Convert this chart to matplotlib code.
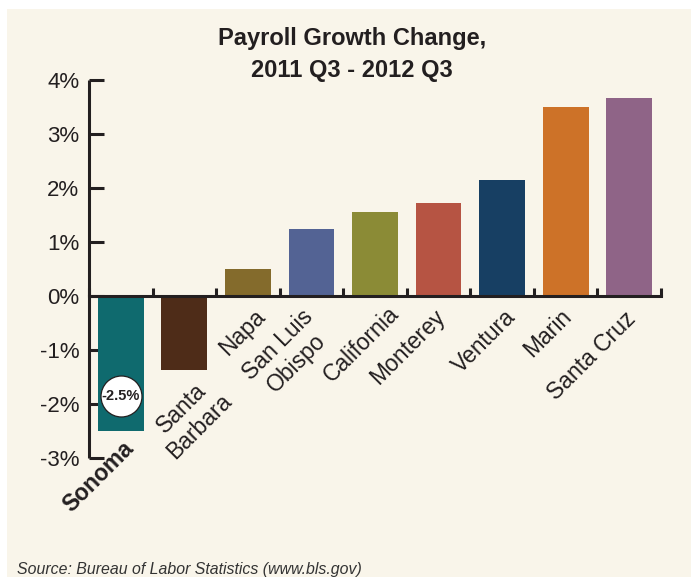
import matplotlib
matplotlib.use("Agg")
import matplotlib.pyplot as plt
from matplotlib.patches import Rectangle

# Data
regions = ["Sonoma", "Santa\nBarbara", "Napa", "San Luis\nObispo", "California",
           "Monterey", "Ventura", "Marin", "Santa Cruz"]
growth = [-2.5, -1.37, 0.5, 1.24, 1.56, 1.72, 2.15, 3.5, 3.67]
colors = ["#0f6a6e", "#4e2c18", "#846b2c", "#536394", "#8b8b36",
          "#b65443", "#173f63", "#cd7228", "#8f6487"]
yticks = [-3, -2, -1, 0, 1, 2, 3, 4]
ytick_labels = ["-3%", "-2%", "-1%", "0%", "1%", "2%", "3%", "4%"]
highlight = "Sonoma"
highlight_label = "-2.5%"

# Label placement nudges (pixels, right / up) relative to the bar's
# zero line (positive bars) or bar end (negative bars)
label_dx = [1, 18, 6, -10, 12, -5, 2, -6, -5]
label_dy = [-6, -1, -9, -9, -6, -9, -9, -9, -11]

plt.rcParams["font.family"] = ["Liberation Sans", "DejaVu Sans"]
ink = "#231f20"
bg = "#f9f5ea"

fig = plt.figure(figsize=(6.91, 5.77), dpi=100)
fig.patch.set_facecolor("white")
fig.patches.append(Rectangle((7 / 691, 0), 1, 1 - 9 / 577, transform=fig.transFigure,
                             facecolor=bg, edgecolor="none", zorder=-10))

ax = fig.add_axes([89 / 691, 1 - 458 / 577, 572 / 691, 378 / 577])
ax.set_facecolor("none")

x = list(range(len(regions)))
ax.bar(x, growth, width=0.72, color=colors, zorder=2)

ax.set_xlim(-0.5, len(regions) - 0.5)
ax.set_ylim(-3, 4)

for s in ["top", "right"]:
    ax.spines[s].set_visible(False)
ax.spines["left"].set_linewidth(2.2)
ax.spines["left"].set_color(ink)
ax.spines["left"].set_capstyle("butt")
ax.spines["bottom"].set_position(("data", 0))
ax.spines["bottom"].set_linewidth(2.2)
ax.spines["bottom"].set_color(ink)
ax.spines["bottom"].set_zorder(3)

ax.set_yticks(yticks)
ax.set_yticklabels(ytick_labels)
ax.tick_params(axis="y", direction="in", length=10.5, width=2.2, color=ink,
               labelsize=16, labelcolor=ink, pad=7)
ax.set_xticks([i - 0.5 for i in range(len(regions) + 1)])
ax.set_xticklabels([])
ax.tick_params(axis="x", direction="in", length=6, width=2.2, color=ink)

# Category labels, rotated, below the zero line or below the bar end
for xi, name, val, dx, dy in zip(x, regions, growth, label_dx, label_dy):
    is_hl = name == highlight
    base = val if val < 0 else 0
    ax.annotate(name, xy=(xi, base), xytext=(dx, dy), textcoords="offset pixels",
                rotation=45, rotation_mode="anchor",
                ha="right", va="top", multialignment="center",
                fontsize=16.5, color=ink, fontweight="bold" if is_hl else "normal",
                annotation_clip=False, linespacing=1.15)

# Value badge on the highlighted bar
hi = regions.index(highlight)
ax.plot([hi], [growth[hi] + 0.65], marker="o", markersize=29.5, markerfacecolor="white",
        markeredgecolor=ink, markeredgewidth=0.9, zorder=4, clip_on=False)
ax.text(hi, growth[hi] + 0.65, highlight_label, ha="center", va="center",
        fontsize=10.5, fontweight="bold", color=ink, zorder=5)

fig.text(352 / 691, 1 - 45 / 577, "Payroll Growth Change,",
         ha="center", va="baseline", fontsize=17, fontweight="bold", color=ink)
fig.text(352 / 691, 1 - 77 / 577, "2011 Q3 - 2012 Q3",
         ha="center", va="baseline", fontsize=17, fontweight="bold", color=ink)

fig.text(17 / 691, 1 - 574 / 577, "Source: Bureau of Labor Statistics (www.bls.gov)",
         ha="left", va="baseline", fontsize=11.4, style="italic", color="#333333")

fig.savefig("out.png", dpi=100, facecolor=fig.get_facecolor())
